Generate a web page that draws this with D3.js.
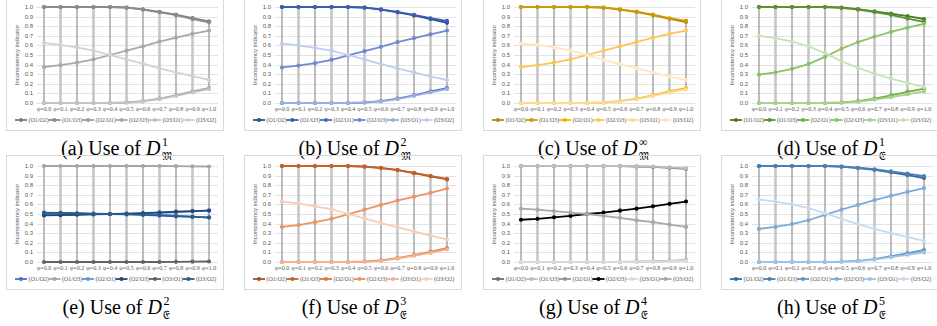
<!DOCTYPE html>
<html>
<head>
<meta charset="utf-8">
<script src="https://cdn.jsdelivr.net/npm/d3@7"></script>
<style>
  body { margin: 0; background: #fff; }
  svg { display: block; }
</style>
</head>
<body>
<svg id="fig"></svg>
<script>
// tick labels and series names
var phiLabels = ['φ=0.0', 'φ=0.1', 'φ=0.2', 'φ=0.3', 'φ=0.4', 'φ=0.5', 'φ=0.6', 'φ=0.7', 'φ=0.8', 'φ=0.9', 'φ=1.0'];
var yTicks = [0, 0.1, 0.2, 0.3, 0.4, 0.5, 0.6, 0.7, 0.8, 0.9, 1.0];
var seriesNames = ['(O1/O2)', '(O1/O3)', '(O2/O1)', '(O2/O3)', '(O3/O1)', '(O3/O2)'];

// values per panel, one row per series (same order as seriesNames)
var valuesA = [
  [1, 1, 1, 1, 1, 0.995, 0.975, 0.95, 0.92, 0.885, 0.85],
  [1, 1, 1, 1, 1, 0.993, 0.972, 0.945, 0.915, 0.875, 0.84],
  [0, 0, 0, 0, 0, 0.005, 0.02, 0.045, 0.08, 0.12, 0.155],
  [0.375, 0.395, 0.42, 0.455, 0.5, 0.545, 0.59, 0.64, 0.68, 0.72, 0.755],
  [0, 0, 0, 0, 0, 0.004, 0.017, 0.04, 0.075, 0.11, 0.145],
  [0.625, 0.605, 0.58, 0.545, 0.5, 0.455, 0.41, 0.36, 0.32, 0.28, 0.24]
];
var valuesB = [
  [1, 1, 1, 1, 1, 0.993, 0.972, 0.945, 0.912, 0.875, 0.835],
  [1, 1, 1, 1, 1, 0.995, 0.975, 0.95, 0.918, 0.883, 0.855],
  [0, 0, 0, 0, 0, 0.005, 0.02, 0.045, 0.08, 0.12, 0.155],
  [0.37, 0.39, 0.415, 0.45, 0.495, 0.54, 0.585, 0.635, 0.675, 0.715, 0.755],
  [0, 0, 0, 0, 0, 0.004, 0.017, 0.04, 0.075, 0.11, 0.145],
  [0.62, 0.6, 0.575, 0.545, 0.5, 0.455, 0.405, 0.36, 0.32, 0.275, 0.24]
];
var valuesC = [
  [1, 1, 1, 1, 1, 0.993, 0.972, 0.948, 0.915, 0.877, 0.843],
  [1, 1, 1, 1, 1, 0.995, 0.975, 0.952, 0.92, 0.883, 0.855],
  [0, 0, 0, 0, 0, 0.005, 0.02, 0.045, 0.08, 0.12, 0.155],
  [0.375, 0.395, 0.42, 0.455, 0.5, 0.545, 0.59, 0.635, 0.68, 0.72, 0.755],
  [0, 0, 0, 0, 0, 0.004, 0.017, 0.04, 0.075, 0.11, 0.145],
  [0.62, 0.605, 0.58, 0.545, 0.5, 0.45, 0.405, 0.36, 0.32, 0.275, 0.24]
];
var valuesD = [
  [1, 1, 1, 1, 1, 0.995, 0.978, 0.955, 0.93, 0.905, 0.875],
  [1, 1, 1, 1, 1, 0.99, 0.972, 0.948, 0.918, 0.88, 0.845],
  [0, 0, 0, 0, 0, 0.005, 0.02, 0.045, 0.08, 0.115, 0.15],
  [0.295, 0.32, 0.355, 0.405, 0.48, 0.565, 0.635, 0.69, 0.74, 0.785, 0.825],
  [0, 0, 0, 0, 0, 0.003, 0.013, 0.035, 0.06, 0.09, 0.12],
  [0.7, 0.675, 0.64, 0.59, 0.52, 0.435, 0.365, 0.305, 0.255, 0.21, 0.165]
];
var valuesE = [
  [0.51, 0.508, 0.505, 0.502, 0.5, 0.498, 0.495, 0.49, 0.482, 0.472, 0.462],
  [1, 1, 1, 1, 1, 1, 1, 1, 0.998, 0.997, 0.995],
  [0.49, 0.492, 0.495, 0.498, 0.5, 0.502, 0.505, 0.51, 0.518, 0.528, 0.538],
  [0.485, 0.488, 0.492, 0.496, 0.5, 0.504, 0.51, 0.516, 0.524, 0.53, 0.535],
  [0, 0, 0, 0, 0, 0, 0, 0, 0.002, 0.003, 0.005],
  [0.515, 0.512, 0.508, 0.504, 0.5, 0.496, 0.49, 0.484, 0.476, 0.47, 0.465]
];
var valuesF = [
  [1, 1, 1, 1, 1, 0.993, 0.978, 0.958, 0.925, 0.893, 0.86],
  [1, 1, 1, 1, 1, 0.995, 0.98, 0.96, 0.928, 0.898, 0.866],
  [0, 0, 0, 0, 0, 0.005, 0.017, 0.04, 0.072, 0.105, 0.145],
  [0.365, 0.385, 0.415, 0.45, 0.495, 0.545, 0.595, 0.64, 0.68, 0.72, 0.765],
  [0, 0, 0, 0, 0, 0.004, 0.012, 0.035, 0.065, 0.095, 0.132],
  [0.63, 0.61, 0.58, 0.55, 0.5, 0.455, 0.405, 0.36, 0.32, 0.275, 0.235]
];
var valuesG = [
  [1, 1, 1, 1, 1, 1, 1, 0.995, 0.99, 0.98, 0.97],
  [1, 1, 1, 1, 1, 1, 1, 0.998, 0.995, 0.985, 0.975],
  [0, 0, 0, 0, 0, 0, 0.001, 0.003, 0.006, 0.012, 0.02],
  [0.44, 0.45, 0.465, 0.48, 0.5, 0.515, 0.535, 0.555, 0.58, 0.605, 0.63],
  [0, 0, 0, 0, 0, 0, 0, 0.002, 0.004, 0.008, 0.015],
  [0.555, 0.545, 0.53, 0.515, 0.5, 0.48, 0.46, 0.435, 0.415, 0.39, 0.365]
];
var valuesH = [
  [1, 1, 1, 1, 1, 0.993, 0.978, 0.96, 0.935, 0.905, 0.875],
  [1, 1, 1, 1, 1, 0.995, 0.982, 0.966, 0.945, 0.92, 0.895],
  [0, 0, 0, 0, 0, 0.004, 0.012, 0.03, 0.06, 0.09, 0.125],
  [0.345, 0.365, 0.395, 0.435, 0.49, 0.545, 0.595, 0.645, 0.69, 0.73, 0.77],
  [0, 0, 0, 0, 0, 0.003, 0.009, 0.025, 0.05, 0.075, 0.1],
  [0.65, 0.63, 0.6, 0.56, 0.51, 0.45, 0.395, 0.345, 0.3, 0.26, 0.22]
];

// caption pieces
var captionLetters = ['a', 'b', 'c', 'd', 'e', 'f', 'g', 'h'];
var captionSups = ['1', '2', '∞', '1', '2', '3', '4', '5'];
var captionSubs = ['\u{1D510}', '\u{1D510}', '\u{1D510}', '\u{1D508}', '\u{1D508}', '\u{1D508}', '\u{1D508}', '\u{1D508}'];

var palettes = [
  ['#7a7a7a', '#8c8c8c', '#9d9d9d', '#a9a9a9', '#c3c3c3', '#d2d2d2'],
  ['#2f4e97', '#3c5eb0', '#4c6fc4', '#7189ce', '#9aafdd', '#c0cdec'],
  ['#b8860b', '#cc9a06', '#f2b600', '#fbc55a', '#fdd88f', '#fee7bf'],
  ['#4b7a28', '#5c9132', '#70ad47', '#8cc168', '#a9d18e', '#c8e2b7'],
  ['#4472c4', '#a5a5a5', '#5b9bd5', '#264478', '#636363', '#255e91'],
  ['#a8521e', '#c4622a', '#e07a3a', '#ec9466', '#f2b293', '#f7cdb8'],
  ['#6e6e6e', '#bdbdbd', '#969696', '#000000', '#dadada', '#a8a8a8'],
  ['#3a6a9b', '#4a7fb5', '#5b95cc', '#7eacd9', '#a1c4e5', '#c5dbef']
];
var panelValues = [valuesA, valuesB, valuesC, valuesD, valuesE, valuesF, valuesG, valuesH];

var W = 937, H = 326;
var svg = d3.select('#fig').attr('width', W).attr('height', H);

var colX = [6, 244, 483, 721];
var rowTop = [7, 166];      // pixel of y=1.0
var plotH = 96;             // y=1.0 -> y=0.0
var boxW = 217;

panelValues.forEach(function(vals, p) {
  var ox = colX[p % 4];
  var top = rowTop[Math.floor(p / 4)];
  var bottom = top + plotH;
  var colors = palettes[p];

  var x = d3.scalePoint().domain(phiLabels).range([ox + 38, ox + 203]);
  var y = d3.scaleLinear().domain([0, 1]).range([bottom, top]);

  var g = svg.append('g');

  // panel frame
  g.append('rect')
    .attr('x', ox + 0.5).attr('y', top - 10.5)
    .attr('width', boxW).attr('height', plotH + 38)
    .attr('fill', 'none').attr('stroke', '#d9d9d9').attr('stroke-width', 1);

  // horizontal gridlines
  g.selectAll('.grid').data(yTicks).enter().append('line')
    .attr('x1', ox + 31).attr('x2', ox + 212)
    .attr('y1', function(d) { return Math.round(y(d)) + 0.5; })
    .attr('y2', function(d) { return Math.round(y(d)) + 0.5; })
    .attr('stroke', '#e3e3e3').attr('stroke-width', 1);

  // y tick labels
  g.selectAll('.ytick').data(yTicks).enter().append('text')
    .attr('x', ox + 27).attr('y', function(d) { return y(d) + 2; })
    .attr('text-anchor', 'end')
    .style('font', '6px "Liberation Sans", Arial, sans-serif')
    .attr('fill', '#595959')
    .text(function(d) { return d3.format('.1f')(d); });

  // y title
  g.append('text')
    .attr('transform', 'translate(' + (ox + 13) + ',' + ((top + bottom) / 2) + ') rotate(-90)')
    .attr('text-anchor', 'middle')
    .style('font', '6px "Liberation Sans", Arial, sans-serif')
    .attr('fill', '#595959')
    .text('Inconsistency indicator');

  // high-low lines at each category
  phiLabels.forEach(function(lab, i) {
    var ext = d3.extent(vals, function(s) { return s[i]; });
    g.append('line')
      .attr('x1', x(lab)).attr('x2', x(lab))
      .attr('y1', y(ext[0])).attr('y2', y(ext[1]))
      .attr('stroke', i % 2 ? '#c6c6c6' : '#a0a0a0')
      .attr('stroke-width', i % 2 ? 2.6 : 1.4);
  });

  // series
  var line = d3.line()
    .x(function(d, i) { return x(phiLabels[i]); })
    .y(function(d) { return y(d); });

  vals.forEach(function(s, k) {
    g.append('path')
      .datum(s)
      .attr('d', line)
      .attr('fill', 'none')
      .attr('stroke', colors[k])
      .attr('stroke-width', 1.8);
    g.selectAll('.pt' + k).data(s).enter().append('circle')
      .attr('cx', function(d, i) { return x(phiLabels[i]); })
      .attr('cy', function(d) { return y(d); })
      .attr('r', 2.1)
      .attr('fill', colors[k]);
  });

  // x tick labels
  g.selectAll('.xtick').data(phiLabels).enter().append('text')
    .attr('x', function(d) { return x(d); })
    .attr('y', bottom + 8)
    .attr('text-anchor', 'middle')
    .style('font', '6px "Liberation Serif", "Times New Roman", serif')
    .attr('fill', '#595959')
    .text(function(d) { return d; });

  // legend
  var entryW = 33.5;
  var lx0 = ox + boxW / 2 - entryW * 3 + 1;
  var ly = bottom + 17;
  seriesNames.forEach(function(name, k) {
    var lx = lx0 + k * entryW;
    g.append('line')
      .attr('x1', lx).attr('x2', lx + 12)
      .attr('y1', ly).attr('y2', ly)
      .attr('stroke', colors[k]).attr('stroke-width', 1.8);
    g.append('circle')
      .attr('cx', lx + 6).attr('cy', ly).attr('r', 2.1)
      .attr('fill', colors[k]);
    g.append('text')
      .attr('x', lx + 13.5).attr('y', ly + 2)
      .style('font', '6px "Liberation Serif", "Times New Roman", serif')
      .attr('fill', '#595959')
      .text(name);
  });

  // caption: (x) Use of D^sup_sub
  var cap = svg.append('g');
  var capY = bottom + 52;
  var main = cap.append('text')
    .attr('x', 0).attr('y', capY)
    .style('font', '20px "Liberation Serif", "Times New Roman", serif')
    .attr('fill', '#000');
  main.append('tspan').text('(' + captionLetters[p] + ') Use of ');
  main.append('tspan').style('font-style', 'italic').text('D');
  var mw = main.node().getComputedTextLength() + 1.5;
  var sup = cap.append('text')
    .attr('x', mw).attr('y', capY - 9.5)
    .style('font', '12px "Liberation Serif", "Times New Roman", serif')
    .text(captionSups[p]);
  var sub = cap.append('text')
    .attr('x', mw).attr('y', capY + 5)
    .style('font', '11px "DejaVu Serif", "DejaVu Sans", serif')
    .text(captionSubs[p]);
  var tw = mw + Math.max(sup.node().getComputedTextLength(), sub.node().getComputedTextLength());
  cap.attr('transform', 'translate(' + (ox + boxW / 2 - tw / 2 + 2) + ',0)');
});
</script>
</body>
</html>
